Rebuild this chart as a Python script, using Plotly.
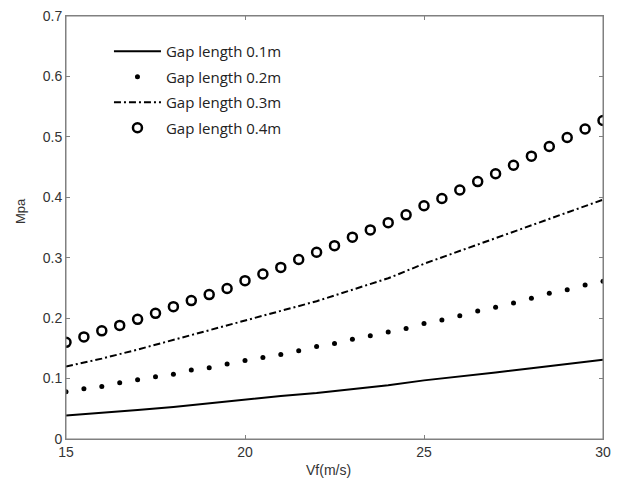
import plotly.graph_objects as go

# x values (flow velocity, m/s)
vf_half = [15.0, 15.5, 16.0, 16.5, 17.0, 17.5, 18.0, 18.5, 19.0, 19.5, 20.0,
           20.5, 21.0, 21.5, 22.0, 22.5, 23.0, 23.5, 24.0, 24.5, 25.0,
           25.5, 26.0, 26.5, 27.0, 27.5, 28.0, 28.5, 29.0, 29.5, 30.0]
vf_int = [15, 16, 17, 18, 19, 20, 21, 22, 23, 24, 25, 26, 27, 28, 29, 30]

# series values (MPa)
gap_01 = [0.039, 0.043, 0.048, 0.053, 0.059, 0.066, 0.071, 0.076, 0.082, 0.089,
          0.097, 0.103, 0.110, 0.117, 0.124, 0.131]
gap_02 = [0.078, 0.083, 0.087, 0.093, 0.098, 0.103, 0.107, 0.114, 0.118, 0.124, 0.130,
          0.135, 0.140, 0.146, 0.153, 0.158, 0.165, 0.171, 0.177, 0.183, 0.191,
          0.197, 0.204, 0.212, 0.218, 0.225, 0.233, 0.241, 0.247, 0.255, 0.261]
gap_03 = [0.120, 0.133, 0.148, 0.164, 0.181, 0.197, 0.212, 0.228, 0.247, 0.266,
          0.290, 0.311, 0.333, 0.354, 0.375, 0.396]
gap_04 = [0.160, 0.169, 0.179, 0.188, 0.198, 0.208, 0.219, 0.229, 0.239, 0.249, 0.262,
          0.273, 0.284, 0.297, 0.309, 0.320, 0.334, 0.346, 0.358, 0.371, 0.386,
          0.398, 0.412, 0.426, 0.439, 0.453, 0.468, 0.484, 0.499, 0.513, 0.527]

names = ["Gap length 0.1m", "Gap length 0.2m", "Gap length 0.3m", "Gap length 0.4m"]
x_ticks = [15, 20, 25, 30]
y_ticks = [0, 0.1, 0.2, 0.3, 0.4, 0.5, 0.6, 0.7]

fig = go.Figure()
fig.add_trace(go.Scatter(x=vf_int, y=gap_01, mode="lines", name=names[0], legendgroup="a",
                         line=dict(color="black", width=2)))
fig.add_trace(go.Scatter(x=vf_half, y=gap_02, mode="markers", name=names[1], legendgroup="b",
                         marker=dict(color="black", size=5, symbol="circle")))
fig.add_trace(go.Scatter(x=vf_int, y=gap_03, mode="lines", name=names[2], legendgroup="c",
                         line=dict(color="black", width=2, dash="7px,3px,2px,3px")))
fig.add_trace(go.Scatter(x=vf_half, y=gap_04, mode="markers", name=names[3], legendgroup="d",
                         marker=dict(color="black", size=9, symbol="circle-open",
                                     line=dict(color="black", width=2.5))))

axis_common = dict(showline=True, mirror="ticks", linecolor="#808080", linewidth=1,
                   ticks="inside", ticklen=4, tickcolor="#808080", showgrid=False,
                   zeroline=False, automargin=False,
                   tickfont=dict(family="Liberation Sans", size=14, color="#333333"))

fig.update_xaxes(range=[15, 30], tickvals=x_ticks, **axis_common)
fig.update_yaxes(range=[0, 0.7], tickvals=y_ticks, **axis_common)

# plot frame
fig.add_shape(type="rect", xref="paper", yref="paper", x0=0, y0=0, x1=1, y1=1,
              line=dict(color="#808080", width=1), layer="above")

fig.add_annotation(text="Vf(m/s)", xref="paper", yref="paper", x=0.488, y=-0.073,
                   xanchor="center", yanchor="middle", showarrow=False,
                   font=dict(family="Liberation Sans", size=14, color="#333333"))
fig.add_annotation(text="Mpa", xref="paper", yref="paper", x=-0.0857, y=0.539,
                   xanchor="center", yanchor="middle",
                   textangle=-90, showarrow=False,
                   font=dict(family="Liberation Sans", size=13, color="#333333"))

fig.update_layout(
    width=619, height=480,
    margin=dict(l=66, r=16, t=16, b=41),
    plot_bgcolor="white", paper_bgcolor="white",
    legend=dict(x=0.08, y=0.955, xanchor="left", yanchor="top",
                bgcolor="rgba(0,0,0,0)", tracegroupgap=3, itemwidth=47,
                font=dict(family="Open Sans", size=15, color="#222222")),
)

fig.write_html("out.html", config={"displayModeBar": False},
               post_script="document.body.style.margin='0';document.body.style.padding='0';")
